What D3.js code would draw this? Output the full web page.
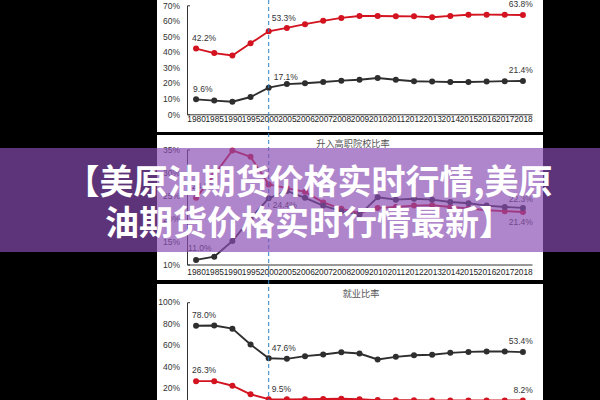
<!DOCTYPE html>
<html><head><meta charset="utf-8">
<script src="https://cdn.jsdelivr.net/npm/d3@7"></script>
<style>html,body{margin:0;padding:0;background:#000;}svg{display:block;}</style>
</head><body>
<svg id="chart" width="600" height="400"></svg>
<script>
// ---------- data ----------
const years = ["1980","1985","1990","1995","2000","2005","2006","2007","2008","2009","2010","2011","2012","2013","2014","2015","2016","2017","2018"];

// panel 1 (top, untitled)
const p1Red   = [42.2,39.3,37.8,45.6,53.3,55.5,57.9,60.0,61.9,63.1,63.1,63.0,62.9,62.3,63.2,63.9,64.0,63.9,63.8];
const p1Black = [9.6,8.8,8.1,11.1,17.1,19.4,19.9,20.7,21.6,22.2,23.3,22.2,21.2,21.0,20.7,20.7,21.0,21.3,21.4];
const p1Ticks = [0,10,20,30,40,50,60,70];

// panel 2: 升入高职院校比率
const p2Title = "升入高职院校比率";
const p2Red   = [24.5,29.5,34.8,33.4,27.4,26.6,25.8,23.5,22.1,21.2,22.3,22.5,22.8,22.9,22.5,22.2,21.8,21.6,21.4];
const p2Black = [11.0,11.7,15.1,20.0,24.4,26.0,24.5,22.8,21.6,20.8,24.6,24.1,24.3,24.1,23.6,23.3,22.8,22.5,22.3];
const p2Ticks = [10,15,20,25,30,35];

// panel 3: 就业比率 (its x axis lies below the visible area)
const p3Title = "就业比率";
const p3Black = [78.0,78.2,75.3,60.5,47.6,47.1,49.6,51.2,53.3,52.1,46.5,49.0,50.5,50.9,52.7,53.6,53.9,53.9,53.4];
const p3Red   = [26.3,26.3,22.0,14.0,9.5,9.3,9.5,9.6,9.8,9.4,8.6,8.5,8.4,8.3,8.3,8.2,8.3,8.2,8.2];
const p3Ticks = [20,40,60,80,100];

const labelledIdx = [0,4,18];
const bannerLines = ["【美原油期货价格实时行情,美原","油期货价格实时行情最新】"];

// ---------- drawing ----------
const svg = d3.select("#chart");
const RED = "#d3131f", BLK = "#2e2e2e";
const fmt = v => d3.format(".1f")(v) + "%";
const NUMFONT = "'Liberation Sans', Arial, sans-serif";

svg.append("rect").attr("width",600).attr("height",400).attr("fill","#000");

const x = d3.scalePoint().domain(years).range([187,532]).padding(0.5);

function panel(cfg){
  const g = svg.append("g");
  g.append("rect").attr("x",157).attr("y",cfg.top).attr("width",386).attr("height",cfg.bottom-cfg.top).attr("fill","#fff");
  const cg = g.append("g");
  if (cfg.clip){
    const id = "clip"+cfg.top;
    svg.append("clipPath").attr("id",id).append("rect").attr("x",157).attr("y",cfg.top).attr("width",386).attr("height",cfg.bottom-cfg.top);
    cg.attr("clip-path","url(#"+id+")");
  }
  const y = d3.scaleLinear().domain(cfg.domain).range(cfg.range);
  if (cfg.title){
    cg.append("text").attr("x",cfg.titleX).attr("y",cfg.titleY).attr("text-anchor","middle")
      .attr("font-family","'Noto Sans CJK SC', sans-serif").attr("font-size",9.2).attr("fill","#555").text(cfg.title);
  }
  const ya = cg.append("g").attr("transform","translate(187,0)")
    .call(d3.axisLeft(y).tickValues(cfg.ticks).tickSize(0).tickSizeOuter(-3).tickPadding(7).tickFormat(d=>d+"%"));
  ya.select(".domain").attr("stroke","#333");
  ya.selectAll("text").attr("font-family",NUMFONT).attr("font-size",8.5).attr("fill","#333");
  if (cfg.showX){
    const xa = cg.append("g").attr("transform",`translate(0,${y(cfg.domain[0])})`)
      .call(d3.axisBottom(x).tickSize(0).tickSizeOuter(0).tickPadding(cfg.xPad));
    xa.select(".domain").attr("stroke","#333");
    xa.selectAll("text").attr("font-family",NUMFONT).attr("font-size",8.3).attr("fill","#222");
  }

  cfg.series.forEach(s=>{
    const line = d3.line().x((d,i)=>x(years[i])).y(d=>y(d));
    cg.append("path").datum(s.values).attr("d",line).attr("fill","none").attr("stroke",s.color).attr("stroke-width",1.9);
    cg.selectAll(null).data(s.values).enter().append("circle")
      .attr("cx",(d,i)=>x(years[i])).attr("cy",d=>y(d)).attr("r",3).attr("fill",s.color);
    labelledIdx.forEach((idx,k)=>{
      const off = s.offsets[k];
      if(!off) return;
      cg.append("text").attr("x",x(years[idx])+off[0]).attr("y",y(s.values[idx])+off[1]).attr("dy","0.35em")
        .attr("text-anchor",off[2]).attr("font-family",NUMFONT).attr("font-size",8.5).attr("fill","#333")
        .text(fmt(s.values[idx]));
    });
  });
}

panel({top:0,bottom:132,domain:[0,70],range:[114.3,5.3],ticks:p1Ticks,xPad:2,showX:true,
  series:[
    {values:p1Red,color:RED,offsets:[[-4,-11,"start"],[3,-13,"start"],[10,-11,"end"]]},
    {values:p1Black,color:BLK,offsets:[[-3,-10,"start"],[5,-11,"start"],[10,-11,"end"]]}
  ]});
panel({top:135,bottom:280,domain:[10,35],range:[264.5,149.5],ticks:p2Ticks,xPad:5,showX:true,title:p2Title,titleX:353,titleY:147,
  series:[
    {values:p2Red,color:RED,offsets:[[-4,-12,"start"],null,[10,10,"end"]]},
    {values:p2Black,color:BLK,offsets:[[-8,-12,"start"],[4,7,"start"],[10,-9,"end"]]}
  ]});
panel({top:284,bottom:400,domain:[0,100],range:[409.3,302.2],ticks:p3Ticks,xPad:3,showX:false,title:p3Title,titleX:361,titleY:297,clip:true,
  series:[
    {values:p3Black,color:BLK,offsets:[[-4,-11,"start"],[3,-10,"start"],[10,-11,"end"]]},
    {values:p3Red,color:RED,offsets:[[-4,-11,"start"],[3,-10,"start"],[10,-10.5,"end"]]}
  ]});

// dashed reference line at 2000
svg.append("line").attr("x1",x("2000")).attr("x2",x("2000")).attr("y1",0).attr("y2",400)
  .attr("stroke","#2f7fc6").attr("stroke-width",1).attr("stroke-dasharray","4,3");

// banner overlay
svg.append("rect").attr("x",0).attr("y",148).attr("width",600).attr("height",104).attr("fill","rgba(137,76,179,0.68)");
svg.selectAll(null).data(bannerLines).enter().append("text")
  .attr("x",309).attr("y",(d,i)=>194+i*41).attr("text-anchor","middle")
  .attr("font-family","'Noto Sans CJK SC', sans-serif").attr("font-weight",700).attr("font-size",34)
  .attr("fill","#fff").text(d=>d);
</script>
</body></html>
